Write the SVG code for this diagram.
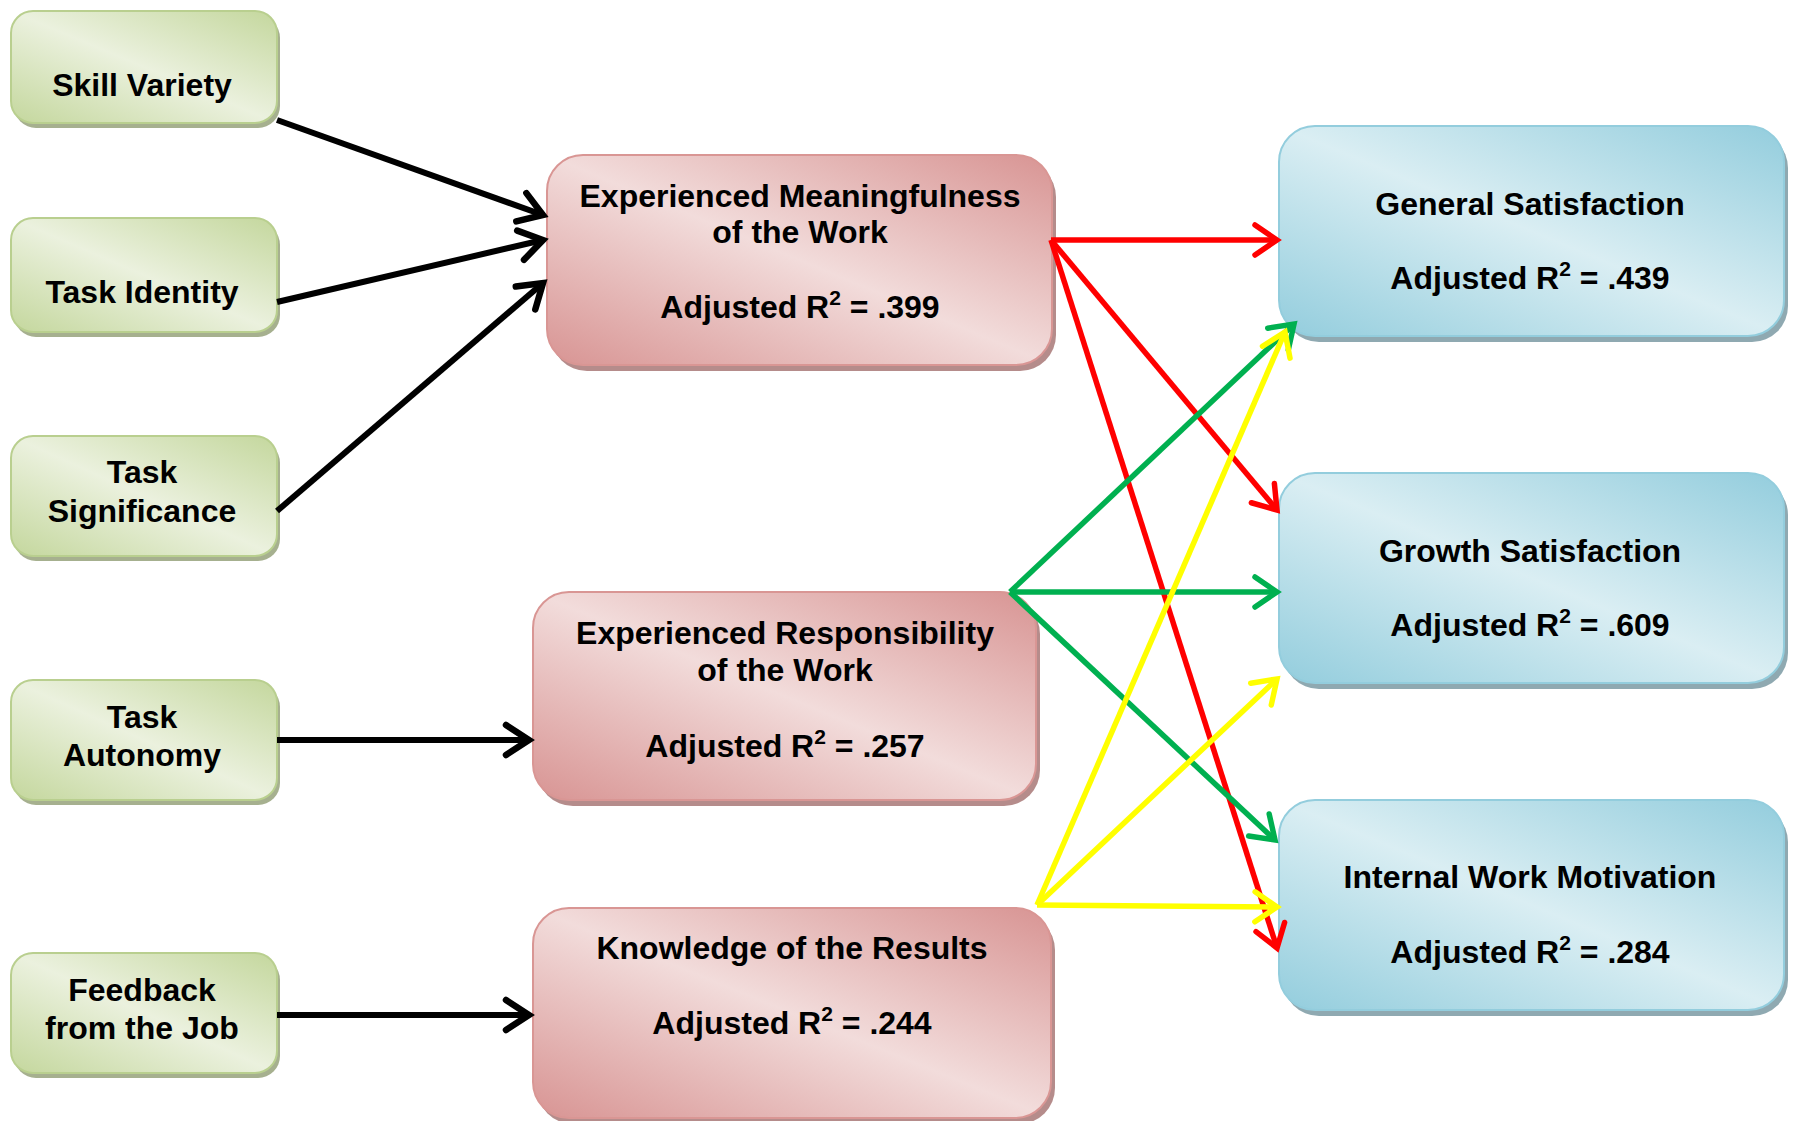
<svg xmlns="http://www.w3.org/2000/svg" width="1796" height="1121" viewBox="0 0 1796 1121">
<style>
text{font-family:"Liberation Sans",Arial,sans-serif;font-weight:bold;font-size:32px;fill:#000;text-anchor:middle}
.sup{font-size:21px}
.g{fill:url(#gg);stroke:#b9cf8f;stroke-width:2}
.gs{fill:#a6b08f}
.p{fill:url(#pg);stroke:#d99694;stroke-width:2}
.ps{fill:#b58c8b}
.b{fill:url(#bg);stroke:#93cddd;stroke-width:2}
.bs{fill:#8fa9b1}
.blk{stroke:#000;stroke-width:6;fill:none;marker-end:url(#mk)}
.red{stroke:#ff0000;stroke-width:5.5;fill:none;marker-end:url(#mr)}
.grn{stroke:#00b050;stroke-width:5.5;fill:none;marker-end:url(#mg)}
.yel{stroke:#ffff00;stroke-width:5.5;fill:none;marker-end:url(#my)}
</style>
<defs>
<linearGradient id="gg" x1="1" y1="0" x2="0" y2="1">
<stop offset="0" stop-color="#c4d79d"/><stop offset="0.5" stop-color="#ebf1de"/><stop offset="1" stop-color="#c4d79d"/>
</linearGradient>
<linearGradient id="pg" x1="1" y1="0" x2="0" y2="1">
<stop offset="0" stop-color="#d89493"/><stop offset="0.5" stop-color="#f2dcdb"/><stop offset="1" stop-color="#d89493"/>
</linearGradient>
<linearGradient id="bg" x1="1" y1="0" x2="0" y2="1">
<stop offset="0" stop-color="#93cddd"/><stop offset="0.5" stop-color="#daeef3"/><stop offset="1" stop-color="#93cddd"/>
</linearGradient>
<marker id="mk" markerUnits="userSpaceOnUse" markerWidth="40" markerHeight="40" viewBox="-30 -20 40 40" refX="0" refY="0" orient="auto"><path d="M-23,-15 L0,0 L-23,15" fill="none" stroke="#000" stroke-width="6.5" stroke-linecap="round"/></marker>
<marker id="mr" markerUnits="userSpaceOnUse" markerWidth="40" markerHeight="40" viewBox="-30 -20 40 40" refX="0" refY="0" orient="auto"><path d="M-22,-15 L0,0 L-22,15" fill="none" stroke="#ff0000" stroke-width="5.5" stroke-linecap="round"/></marker>
<marker id="mg" markerUnits="userSpaceOnUse" markerWidth="40" markerHeight="40" viewBox="-30 -20 40 40" refX="0" refY="0" orient="auto"><path d="M-22,-15 L0,0 L-22,15" fill="none" stroke="#00b050" stroke-width="5.5" stroke-linecap="round"/></marker>
<marker id="my" markerUnits="userSpaceOnUse" markerWidth="40" markerHeight="40" viewBox="-30 -20 40 40" refX="0" refY="0" orient="auto"><path d="M-22,-15 L0,0 L-22,15" fill="none" stroke="#ffff00" stroke-width="5.5" stroke-linecap="round"/></marker>
</defs>

<g id="skill-variety">
<rect class="gs" x="14" y="16" width="266" height="112" rx="22"/>
<rect class="g" x="11" y="11" width="266" height="112" rx="22"/>
<text x="142" y="96">Skill Variety</text>
</g>
<g id="task-identity">
<rect class="gs" x="14" y="223" width="266" height="114" rx="22"/>
<rect class="g" x="11" y="218" width="266" height="114" rx="22"/>
<text x="142" y="303">Task Identity</text>
</g>
<g id="task-significance">
<rect class="gs" x="14" y="441" width="266" height="120" rx="22"/>
<rect class="g" x="11" y="436" width="266" height="120" rx="22"/>
<text x="142" y="483">Task</text>
<text x="142" y="522">Significance</text>
</g>
<g id="task-autonomy">
<rect class="gs" x="14" y="685" width="266" height="120" rx="22"/>
<rect class="g" x="11" y="680" width="266" height="120" rx="22"/>
<text x="142" y="728">Task</text>
<text x="142" y="766">Autonomy</text>
</g>
<g id="feedback">
<rect class="gs" x="14" y="958" width="266" height="120" rx="22"/>
<rect class="g" x="11" y="953" width="266" height="120" rx="22"/>
<text x="142" y="1001">Feedback</text>
<text x="142" y="1039">from the Job</text>
</g>

<g id="meaningfulness">
<rect class="ps" x="551" y="161" width="505" height="210" rx="36"/>
<rect class="p" x="547" y="155" width="505" height="210" rx="36"/>
<text x="800" y="207">Experienced Meaningfulness</text>
<text x="800" y="243">of the Work</text>
<text x="800" y="318">Adjusted R<tspan class="sup" dy="-13">2</tspan><tspan dy="13"> = .399</tspan></text>
</g>
<g id="responsibility">
<rect class="ps" x="537" y="598" width="503" height="208" rx="36"/>
<rect class="p" x="533" y="592" width="503" height="208" rx="36"/>
<text x="785" y="644">Experienced Responsibility</text>
<text x="785" y="681">of the Work</text>
<text x="785" y="757">Adjusted R<tspan class="sup" dy="-13">2</tspan><tspan dy="13"> = .257</tspan></text>
</g>
<g id="knowledge">
<rect class="ps" x="537" y="914" width="518" height="210" rx="36"/>
<rect class="p" x="533" y="908" width="518" height="210" rx="36"/>
<text x="792" y="959">Knowledge of the Results</text>
<text x="792" y="1034">Adjusted R<tspan class="sup" dy="-13">2</tspan><tspan dy="13"> = .244</tspan></text>
</g>

<g id="general-satisfaction">
<rect class="bs" x="1283" y="132" width="505" height="210" rx="36"/>
<rect class="b" x="1279" y="126" width="505" height="210" rx="36"/>
<text x="1530" y="215">General Satisfaction</text>
<text x="1530" y="289">Adjusted R<tspan class="sup" dy="-13">2</tspan><tspan dy="13"> = .439</tspan></text>
</g>
<g id="growth-satisfaction">
<rect class="bs" x="1283" y="479" width="505" height="210" rx="36"/>
<rect class="b" x="1279" y="473" width="505" height="210" rx="36"/>
<text x="1530" y="562">Growth Satisfaction</text>
<text x="1530" y="636">Adjusted R<tspan class="sup" dy="-13">2</tspan><tspan dy="13"> = .609</tspan></text>
</g>
<g id="internal-work-motivation">
<rect class="bs" x="1283" y="806" width="505" height="210" rx="36"/>
<rect class="b" x="1279" y="800" width="505" height="210" rx="36"/>
<text x="1530" y="888">Internal Work Motivation</text>
<text x="1530" y="963">Adjusted R<tspan class="sup" dy="-13">2</tspan><tspan dy="13"> = .284</tspan></text>
</g>

<g id="connectors">
<line class="blk" x1="277" y1="120" x2="543" y2="215"/>
<line class="blk" x1="277" y1="302" x2="543" y2="240"/>
<line class="blk" x1="277" y1="511" x2="543" y2="283"/>
<line class="blk" x1="277" y1="740" x2="529" y2="740"/>
<line class="blk" x1="277" y1="1015" x2="529" y2="1015"/>
<line class="red" x1="1051" y1="240" x2="1277" y2="240"/>
<line class="red" x1="1051" y1="240" x2="1277" y2="510"/>
<line class="red" x1="1051" y1="240" x2="1277" y2="948"/>
<line class="grn" x1="1010" y1="592" x2="1294" y2="324"/>
<line class="grn" x1="1010" y1="592" x2="1277" y2="592"/>
<line class="grn" x1="1010" y1="592" x2="1275" y2="840"/>
<line class="yel" x1="1037" y1="905" x2="1285" y2="332"/>
<line class="yel" x1="1037" y1="905" x2="1277" y2="679"/>
<line class="yel" x1="1037" y1="905" x2="1277" y2="907"/>
</g>
</svg>
